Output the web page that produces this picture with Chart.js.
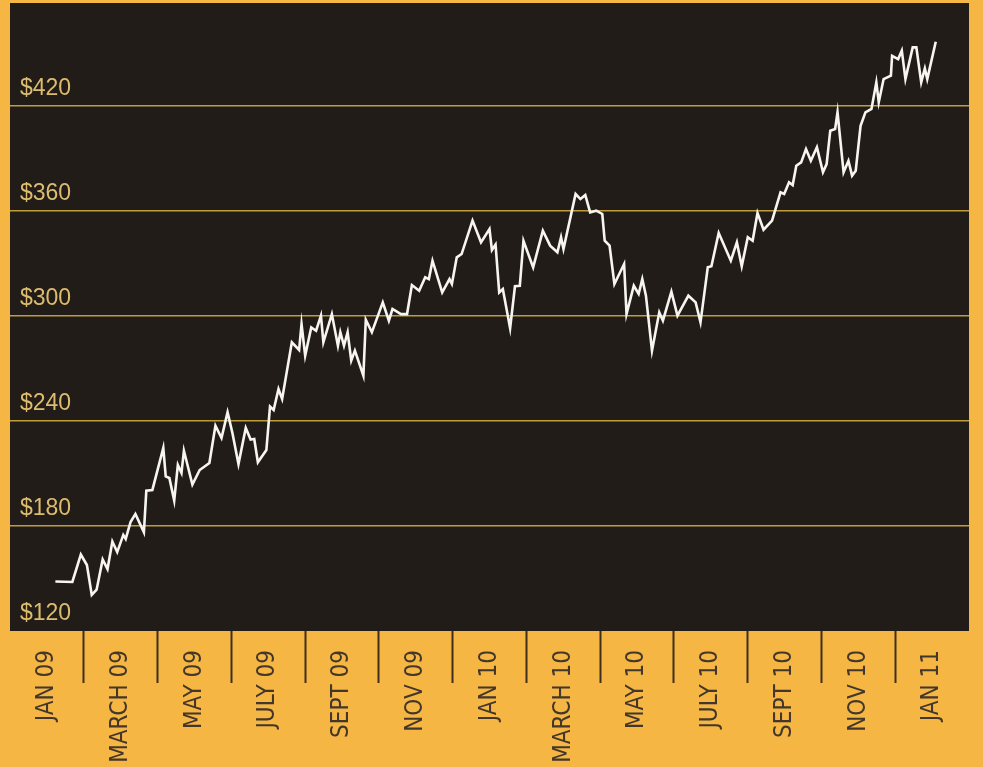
<!DOCTYPE html>
<html>
<head>
<meta charset="utf-8">
<title>Share price, January 2009 – January 2011</title>
<script src="https://cdn.jsdelivr.net/npm/chart.js@4.4.1/dist/chart.umd.min.js"></script>
<style>
  html, body { margin: 0; padding: 0; background: #f5b643; }
  canvas { display: block; }
</style>
</head>
<body>
<canvas id="chart" width="983" height="767"></canvas>
<script>
// Two-month period labels along the bottom
const monthLabels = ['JAN 09', 'MARCH 09', 'MAY 09', 'JULY 09', 'SEPT 09', 'NOV 09',
  'JAN 10', 'MARCH 10', 'MAY 10', 'JULY 10', 'SEPT 10', 'NOV 10', 'JAN 11'];

// Price levels that get a labelled gridline
const priceTicks = [120, 180, 240, 300, 360, 420];

// Closing prices and their dates
const tradeDates = [
  '2009-01-08', '2009-01-22', '2009-01-29', '2009-02-03', '2009-02-07', '2009-02-11',
  '2009-02-16', '2009-02-20', '2009-02-24', '2009-02-28', '2009-03-05', '2009-03-07',
  '2009-03-11', '2009-03-15', '2009-03-22', '2009-03-24', '2009-03-29', '2009-04-07',
  '2009-04-09', '2009-04-12', '2009-04-16', '2009-04-19', '2009-04-22', '2009-04-24',
  '2009-05-01', '2009-05-07', '2009-05-15', '2009-05-20', '2009-05-25', '2009-05-30',
  '2009-06-03', '2009-06-08', '2009-06-14', '2009-06-18', '2009-06-21', '2009-06-24',
  '2009-07-01', '2009-07-04', '2009-07-07', '2009-07-11', '2009-07-14', '2009-07-22',
  '2009-07-28', '2009-07-30', '2009-08-02', '2009-08-07', '2009-08-11', '2009-08-15',
  '2009-08-17', '2009-08-24', '2009-08-29', '2009-08-31', '2009-09-03', '2009-09-06',
  '2009-09-09', '2009-09-12', '2009-09-19', '2009-09-21', '2009-09-26', '2009-10-05',
  '2009-10-10', '2009-10-13', '2009-10-20', '2009-10-25', '2009-10-29', '2009-11-04',
  '2009-11-09', '2009-11-12', '2009-11-15', '2009-11-23', '2009-11-29', '2009-12-01',
  '2009-12-05', '2009-12-09', '2009-12-18', '2009-12-25', '2010-01-01', '2010-01-03',
  '2010-01-06', '2010-01-09', '2010-01-12', '2010-01-18', '2010-01-22', '2010-01-26',
  '2010-01-29', '2010-02-06', '2010-02-14', '2010-02-20', '2010-02-26', '2010-03-01',
  '2010-03-03', '2010-03-13', '2010-03-17', '2010-03-21', '2010-03-25', '2010-03-30',
  '2010-04-04', '2010-04-06', '2010-04-10', '2010-04-14', '2010-04-22', '2010-04-24',
  '2010-04-30', '2010-05-04', '2010-05-07', '2010-05-10', '2010-05-15', '2010-05-21',
  '2010-05-24', '2010-05-31', '2010-06-05', '2010-06-14', '2010-06-20', '2010-06-24',
  '2010-06-30', '2010-07-03', '2010-07-09', '2010-07-19', '2010-07-24', '2010-07-28',
  '2010-08-02', '2010-08-06', '2010-08-10', '2010-08-15', '2010-08-22', '2010-08-29',
  '2010-09-01', '2010-09-05', '2010-09-08', '2010-09-11', '2010-09-15', '2010-09-19',
  '2010-09-23', '2010-09-28', '2010-10-03', '2010-10-06', '2010-10-09', '2010-10-13',
  '2010-10-15', '2010-10-20', '2010-10-24', '2010-10-27', '2010-10-30', '2010-11-03',
  '2010-11-07', '2010-11-12', '2010-11-16', '2010-11-18', '2010-11-22', '2010-11-28',
  '2010-11-29', '2010-12-04', '2010-12-07', '2010-12-10', '2010-12-16', '2010-12-19',
  '2010-12-23', '2010-12-26', '2010-12-28', '2011-01-04'
];

const closes = [
  148.3, 148.0, 163.7, 157.7, 140.6, 143.6,
  160.9, 155.4, 171.1, 165.1, 174.9, 172.6,
  182.3, 186.9, 176.4, 200.2, 200.6, 224.6,
  208.3, 207.4, 194.5, 214.9, 210.3, 223.0,
  203.7, 212.0, 216.0, 237.3, 230.3, 245.0,
  233.1, 215.4, 236.0, 229.4, 229.7, 216.4,
  223.4, 248.3, 246.3, 258.3, 252.6, 285.0,
  280.6, 295.4, 277.3, 293.5, 291.6, 300.2,
  285.0, 301.1, 283.0, 290.7, 283.0, 290.7,
  274.5, 280.2, 265.9, 297.9, 290.7, 307.8,
  297.3, 304.0, 301.1, 301.1, 317.7, 314.4,
  322.1, 321.1, 331.6, 313.5, 321.1, 318.3,
  333.5, 335.4, 354.5, 342.1, 349.7, 337.7,
  340.8, 313.5, 315.4, 293.0, 317.0, 317.3,
  343.0, 327.8, 348.7, 340.2, 336.4, 345.0,
  338.3, 369.7, 366.8, 369.1, 359.2, 360.2,
  358.3, 343.0, 340.2, 318.3, 329.7, 301.1,
  317.3, 312.6, 321.1, 311.6, 280.2, 302.1,
  297.3, 313.9, 300.2, 311.6, 307.8, 296.4,
  327.8, 328.4, 347.4, 331.6, 342.1, 328.4,
  345.0, 343.0, 358.9, 349.3, 354.5, 370.7,
  369.7, 376.4, 374.8, 385.9, 387.8, 395.4,
  388.7, 396.4, 382.1, 386.8, 405.9, 406.8,
  416.4, 382.1, 388.7, 380.2, 383.0, 408.7,
  416.4, 418.3, 433.5, 422.1, 435.4, 437.3,
  448.7, 446.8, 451.6, 435.4, 453.5, 453.5,
  433.5, 441.5, 435.4, 456.7
];

// Days counted from 1 Jan 2009; each label sits at the start of its two-month period
const DAY_MS = 86400000;
const ORIGIN = Date.UTC(2009, 0, 1);
function dayOffset(iso) {
  const [y, m, d] = iso.split('-').map(Number);
  return (Date.UTC(y, m - 1, d) - ORIGIN) / DAY_MS;
}
const spanDays = dayOffset('2011-01-01');
const periodDays = spanDays / (monthLabels.length - 1);

const points = tradeDates.map((d, i) => ({ x: dayOffset(d), y: closes[i] }));

const PANEL = '#221c18';
const GOLD_LINE = '#bf9c3e';
const GOLD_TEXT = '#dcbc6e';
const BROWN = '#3f2f1c';

// Dark panel behind the plotting area
const panelPlugin = {
  id: 'panel',
  beforeDraw(chart) {
    const { ctx, chartArea: a } = chart;
    ctx.save();
    ctx.fillStyle = PANEL;
    ctx.fillRect(a.left, a.top + 2, a.right - a.left, a.bottom - a.top - 2);
    ctx.restore();
  }
};

// Keep axis label overhang from pushing the plotting area inwards
function noOverhang(scale) {
  scale.paddingTop = 0;
  scale.paddingBottom = 0;
  scale.paddingLeft = 0;
  scale.paddingRight = 0;
}

new Chart(document.getElementById('chart'), {
  type: 'line',
  data: {
    datasets: [{
      data: points,
      xAxisID: 'x',
      yAxisID: 'y',
      borderColor: '#f7f5f0',
      borderWidth: 2.6,
      pointRadius: 0,
      tension: 0,
      fill: false
    }]
  },
  options: {
    responsive: false,
    animation: false,
    layout: { padding: { left: 10, right: 14, top: 1, bottom: 0 } },
    plugins: { legend: { display: false }, tooltip: { enabled: false } },
    scales: {
      x: {
        type: 'linear',
        display: false,
        min: -periodDays / 2,
        max: spanDays + periodDays / 2
      },
      months: {
        type: 'category',
        labels: monthLabels,
        position: 'bottom',
        offset: true,
        border: { display: false },
        grid: {
          offset: true,
          drawOnChartArea: false,
          drawTicks: true,
          tickLength: 52,
          tickWidth: 2,
          tickColor: (ctx) => (ctx.type === 'tick' && ctx.index > 0) ? BROWN : 'rgba(0,0,0,0)'
        },
        ticks: {
          autoSkip: false,
          minRotation: 90,
          maxRotation: 90,
          padding: -33,
          color: '#43362a',
          font: { family: '"Liberation Sans Narrow", "DejaVu Sans Condensed", "Liberation Sans", sans-serif', size: 24 }
        },
        afterFit(scale) { scale.height = 136; noOverhang(scale); }
      },
      y: {
        type: 'linear',
        position: 'left',
        min: 120,
        max: 480,
        border: { display: false },
        grid: {
          drawTicks: false,
          lineWidth: 1.6,
          color: (ctx) => (ctx.tick && ctx.tick.value > priceTicks[0] && priceTicks.includes(ctx.tick.value)) ? GOLD_LINE : 'rgba(0,0,0,0)'
        },
        ticks: {
          stepSize: 60,
          mirror: true,
          padding: 10,
          labelOffset: -17,
          color: GOLD_TEXT,
          font: { family: '"Liberation Sans", Arial, sans-serif', size: 23 },
          callback: (v) => priceTicks.includes(v) ? '$' + v : ''
        },
        afterFit(scale) { scale.width = 0; noOverhang(scale); }
      }
    }
  },
  plugins: [panelPlugin]
});
</script>
</body>
</html>
